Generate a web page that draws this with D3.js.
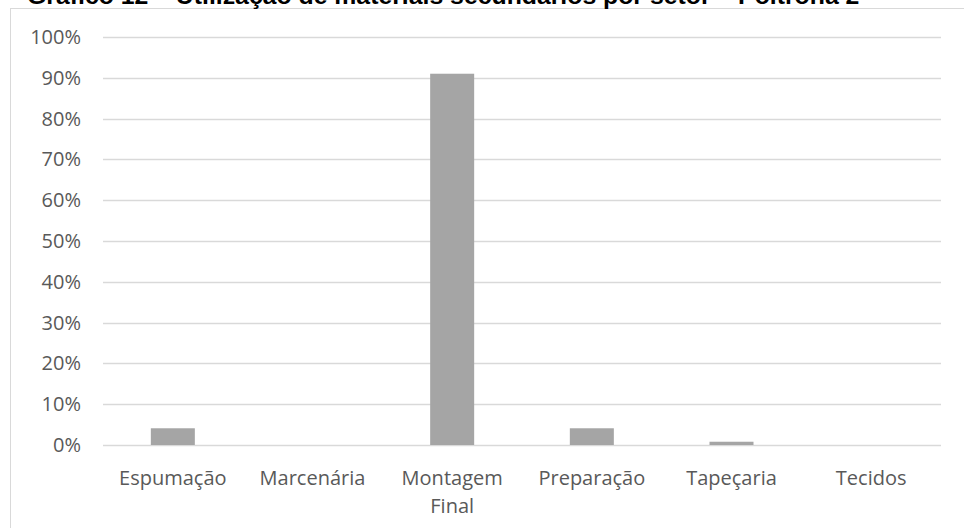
<!DOCTYPE html>
<html>
<head>
<meta charset="utf-8">
<script src="https://cdn.jsdelivr.net/npm/d3@7"></script>
<style>
  body { margin: 0; background: #fff; }
  svg { display: block; }
</style>
</head>
<body>
<div id="chart"></div>
<script>
const title = "Gráfico 12 – Utilização de materiais secundários por setor – Poltrona 2";
const sectors = ["Espumação", "Marcenária", "Montagem Final", "Preparação", "Tapeçaria", "Tecidos"];
const shares = [4.1, 0, 91.0, 4.1, 0.8, 0];
const yTicks = [0, 10, 20, 30, 40, 50, 60, 70, 80, 90, 100];

const width = 964;
const height = 528;
const margin = { top: 37, right: 23, bottom: 83, left: 103 };
const innerWidth = width - margin.left - margin.right;
const innerHeight = height - margin.top - margin.bottom;

const svg = d3.select("#chart")
    .append("svg")
    .attr("width", width)
    .attr("height", height);

// chart area frame (runs off the right and bottom of the picture)
svg.append("rect")
    .attr("x", 10.5)
    .attr("y", 8.5)
    .attr("width", 970)
    .attr("height", 540)
    .attr("fill", "none")
    .attr("stroke", "#d9d9d9")
    .attr("stroke-width", 1);

// title sits mostly above the page top, as in the reference
svg.append("text")
    .attr("x", 27)
    .attr("y", 3.5)
    .attr("font-family", "Liberation Sans, Arial, sans-serif")
    .attr("font-size", 24.8)
    .attr("font-weight", "bold")
    .attr("fill", "#000")
    .text(title);

const g = svg.append("g")
    .attr("transform", `translate(${margin.left},${margin.top})`);

const x = d3.scaleBand()
    .domain(sectors)
    .range([0, innerWidth])
    .paddingInner(0.685)
    .paddingOuter(0.3425);

const y = d3.scaleLinear()
    .domain([0, 100])
    .range([innerHeight, 0]);

// gridlines
g.append("g")
    .selectAll("line")
    .data(yTicks)
    .join("line")
    .attr("x1", 0)
    .attr("x2", innerWidth)
    .attr("y1", d => Math.round(y(d)) + 0.5)
    .attr("y2", d => Math.round(y(d)) + 0.5)
    .attr("stroke", "#d9d9d9")
    .attr("stroke-width", 1.3);

// y axis labels
const yAxis = g.append("g")
    .call(d3.axisLeft(y).tickValues(yTicks).tickFormat(d => d + "%").tickSize(0).tickPadding(22));
yAxis.select(".domain").remove();
yAxis.selectAll("text")
    .attr("font-family", "Open Sans, sans-serif")
    .attr("font-size", 20)
    .attr("fill", "#595959");

// bars
g.selectAll(".bar")
    .data(sectors)
    .join("rect")
    .attr("class", "bar")
    .attr("x", d => x(d))
    .attr("y", (d, i) => y(shares[i]))
    .attr("width", x.bandwidth())
    .attr("height", (d, i) => innerHeight - y(shares[i]))
    .attr("fill", "#a5a5a5");

// x axis labels, wrapped on spaces
const xAxis = g.append("g")
    .attr("transform", `translate(0,${innerHeight})`)
    .call(d3.axisBottom(x).tickSize(0).tickPadding(0));
xAxis.select(".domain").remove();
xAxis.selectAll(".tick text")
    .attr("font-family", "Open Sans, sans-serif")
    .attr("font-size", 20)
    .attr("fill", "#595959")
    .attr("dy", null)
    .each(function (d) {
        const t = d3.select(this).text(null);
        d.split(" ").forEach((w, i) => {
            t.append("tspan")
                .attr("x", 0)
                .attr("y", 40 + i * 28)
                .text(w);
        });
    });
</script>
</body>
</html>
